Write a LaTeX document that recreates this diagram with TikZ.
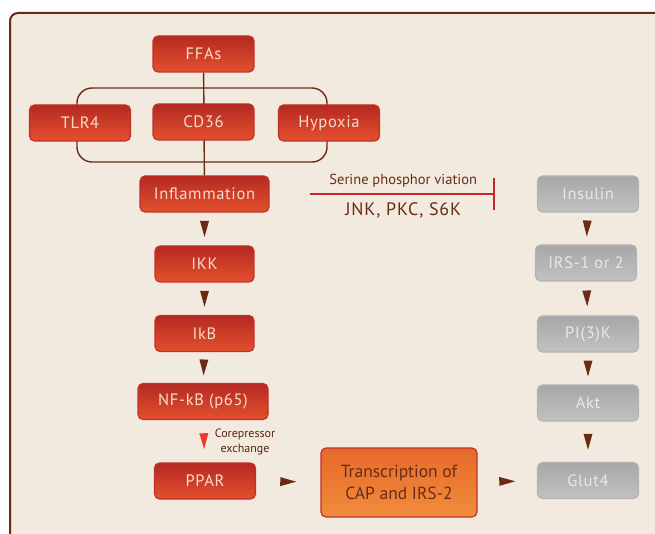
\documentclass[tikz,border=0pt]{standalone}
\usepackage{fontspec}
\setmainfont{PT Sans}
\usetikzlibrary{arrows.meta,decorations.markings,backgrounds}
\definecolor{frameBrown}{HTML}{6B2A14}
\definecolor{paper}{HTML}{F3EADF}
\definecolor{redTop}{HTML}{B42A22}
\definecolor{redBot}{HTML}{E4502E}
\definecolor{redEdge}{HTML}{C3302B}
\definecolor{redText}{HTML}{F6DCCB}
\definecolor{orTop}{HTML}{E56A2A}
\definecolor{orBot}{HTML}{F28C3C}
\definecolor{greyTop}{HTML}{A7A7A9}
\definecolor{greyBot}{HTML}{C2C2C2}
\definecolor{greyEdge}{HTML}{B3B3B3}
\definecolor{greyText}{HTML}{E8E8E8}
\definecolor{inhibRed}{HTML}{C4282B}
\definecolor{tipRed}{HTML}{EE3A2A}

\begin{document}
\begin{tikzpicture}[x=1pt,y=-1pt,
  every node/.style={font=\fontsize{16.5}{19}\selectfont\addfontfeature{LetterSpace=4}},
  box/.style={rounded corners=5pt, line width=1.2pt, minimum width=101pt,
    minimum height=36pt, inner sep=0pt},
  redbox/.style={box, draw=redEdge, top color=redTop, bottom color=redBot, text=redText},
  greybox/.style={box, draw=greyEdge, top color=greyTop, bottom color=greyBot, text=greyText},
  tri/.style={postaction={decorate}, decoration={markings,
    mark=at position .5 with {\fill[#1] (8pt,0) -- (-8pt,4.5pt) -- (-8pt,-4.5pt) -- cycle;}}},
  tri/.default=frameBrown,
  link/.style={frameBrown, line width=1.4pt}]
  \useasboundingbox (0,0) rectangle (655,534);

  % left column
  \node[redbox] (ffas) at (203.5,54) {FFAs};
  \node[redbox] (tlr4) at (80,123) {TLR4};
  \node[redbox] (cd36) at (203.5,122) {CD36};
  \node[redbox] (hypox) at (329,123) {Hypoxia};
  \node[redbox, minimum width=129pt] (infl) at (204.5,194) {Inflammation};
  \node[redbox, minimum width=99pt] (ikk) at (204.5,264) {IKK};
  \node[redbox, minimum width=99pt] (ikb) at (204.5,333.5) {IkB};
  \node[redbox, minimum width=130pt] (nfkb) at (203,401.5) {NF-kB (p65)};
  \node[redbox] (ppar) at (205,481) {PPAR};
  \node[box, draw=redEdge, top color=orTop, bottom color=orBot, text=frameBrown,
    minimum width=156pt, minimum height=69pt, align=center,
    font=\fontsize{17.5}{22.5}\selectfont] (trans) at (399,482.5) {Transcription of\\CAP and IRS-2};

  % insulin column
  \node[greybox] (ins) at (588,194) {Insulin};
  \node[greybox] (irs) at (586,263) {IRS-1 or 2};
  \node[greybox] (pi3k) at (588,334) {PI(3)K};
  \node[greybox] (akt) at (588,403) {Akt};
  \node[greybox] (glut) at (588,480.5) {Glut4};

  \path[tri] (infl) -- (ikk);
  \path[tri] (ikk) -- (ikb);
  \path[tri] (ikb) -- (nfkb);
  \path[tri=tipRed] (nfkb) -- (ppar);
  \path[tri] (ppar) -- (trans);
  \path[tri] (trans) -- (glut);
  \path[tri] (ins) -- (irs);
  \path[tri] (irs) -- (pi3k);
  \path[tri] (pi3k) -- (akt);
  \path[tri] (akt) -- (glut);
  \node[align=center, text=frameBrown!80!black, font=\fontsize{12}{15}\selectfont]
    (corep) at (245,442) {Corepressor\\exchange};

  \draw[inhibRed, line width=1.8pt, shorten <=40pt, shorten >=42pt, -{Bar[width=32pt]}]
    (infl) -- node[above=2pt, text=frameBrown, font=\fontsize{14.5}{16}\selectfont] (ser) {Serine phosphor viation}
    node[below=4pt, text=frameBrown, font=\fontsize{18}{20}\selectfont\addfontfeature{LetterSpace=5}] (jnk) {JNK, PKC, S6K} (ins);

  \begin{scope}[on background layer]
    \clip (0,0) rectangle (655,534);
    \draw[frameBrown, fill=paper, line width=2pt, rounded corners=8pt] (10,13) rectangle (680,560);
    \draw[link, rounded corners=15pt] (77,88) rectangle (327,162);
    \draw[link] (ffas) -- (infl);
  \end{scope}
\end{tikzpicture}
\end{document}
